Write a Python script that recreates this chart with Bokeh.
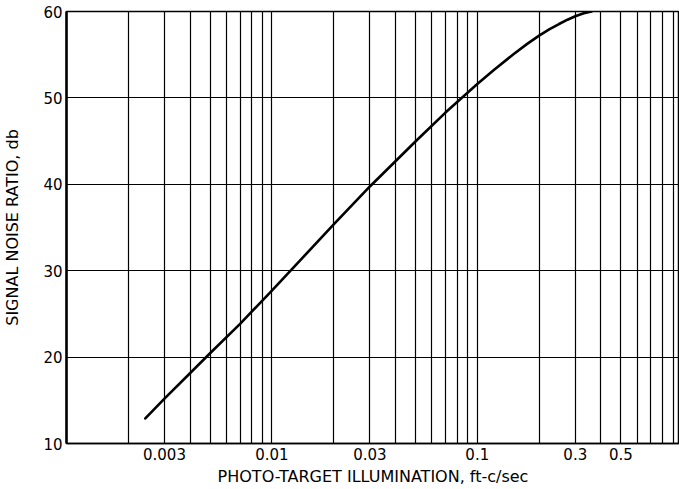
from bokeh.plotting import figure
from bokeh.models import Range1d, FixedTicker
from bokeh.embed import file_html
from bokeh.resources import INLINE

# Curve data
illum = [0.00242, 0.003, 0.005, 0.007, 0.01, 0.02, 0.03, 0.05, 0.07, 0.1,
         0.12, 0.15, 0.175, 0.2, 0.225, 0.25, 0.275, 0.3, 0.33, 0.36]
snr_db = [12.9, 15.2, 20.45, 23.85, 27.7, 35.35, 39.75, 44.95, 48.3, 51.6,
          53.2, 55.05, 56.25, 57.2, 57.95, 58.55, 59.05, 59.45, 59.8, 60.0]

# Axis ticks
x_tick_values = [0.003, 0.01, 0.03, 0.1, 0.3, 0.5]
x_tick_labels = ["0.003", "0.01", "0.03", "0.1", "0.3", "0.5"]
y_tick_values = [10, 20, 30, 40, 50, 60]
x_grid_values = [0.002, 0.003, 0.004, 0.005, 0.006, 0.007, 0.008, 0.009,
                 0.01, 0.02, 0.03, 0.04, 0.05, 0.06, 0.07, 0.08, 0.09,
                 0.1, 0.2, 0.3, 0.4, 0.5, 0.6, 0.7, 0.8, 0.9]

FONT = "DejaVu Sans"

p = figure(width=679, height=489, x_axis_type="log",
           x_range=Range1d(0.001, 0.965), y_range=Range1d(10, 60),
           output_backend="svg", toolbar_location=None,
           min_border_left=66, min_border_right=0, min_border_top=11, min_border_bottom=46)

p.background_fill_color = "white"
p.border_fill_color = "white"
p.outline_line_color = "black"
p.outline_line_width = 1.5

# grids
p.xgrid.ticker = FixedTicker(ticks=x_grid_values)
p.xgrid.grid_line_color = "black"
p.xgrid.grid_line_width = 1.2
p.ygrid.ticker = FixedTicker(ticks=y_tick_values)
p.ygrid.grid_line_color = "black"
p.ygrid.grid_line_width = 1.2

# x axis
xa = p.xaxis[0]
xa.ticker = FixedTicker(ticks=x_tick_values)
xa.major_label_overrides = {v: s for v, s in zip(x_tick_values, x_tick_labels)}
xa.major_tick_out = 0
xa.major_tick_in = 0
xa.minor_tick_out = 0
xa.minor_tick_in = 0
xa.axis_line_width = 1.5
xa.axis_line_color = "black"
xa.major_label_standoff = 4
xa.major_label_text_font = FONT
xa.major_label_text_font_size = "15px"
xa.major_label_text_color = "black"
xa.axis_label = "PHOTO-TARGET ILLUMINATION, ft-c/sec"
xa.axis_label_text_font = FONT
xa.axis_label_text_font_size = "16px"
xa.axis_label_text_font_style = "normal"
xa.axis_label_text_color = "black"
xa.axis_label_standoff = 4

# y axis
ya = p.yaxis[0]
ya.ticker = FixedTicker(ticks=y_tick_values)
ya.major_tick_out = 0
ya.major_tick_in = 0
ya.minor_tick_out = 0
ya.minor_tick_in = 0
ya.axis_line_width = 2.5
ya.axis_line_color = "black"
ya.major_label_standoff = 4
ya.major_label_text_font = FONT
ya.major_label_text_font_size = "15px"
ya.major_label_text_color = "black"
ya.axis_label = "SIGNAL NOISE RATIO, db"
ya.axis_label_text_font = FONT
ya.axis_label_text_font_size = "16px"
ya.axis_label_text_font_style = "normal"
ya.axis_label_text_color = "black"
ya.axis_label_standoff = 18

p.line(illum, snr_db, line_color="black", line_width=2.6, line_join="round", line_cap="round")

open("out.html", "w").write(file_html(p, INLINE))
